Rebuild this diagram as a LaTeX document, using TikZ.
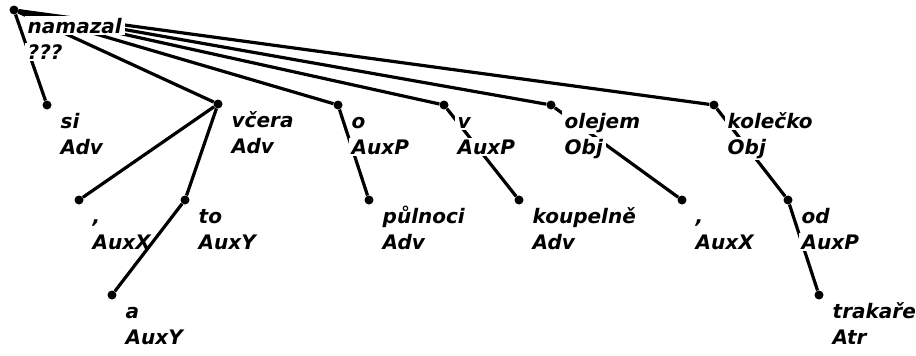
\documentclass[tikz,border=0pt]{standalone}
\usepackage{fontspec}
\setmainfont{DejaVu Sans}

\tikzset{
    uzel/.style={circle, fill=black, inner sep=0pt, minimum size=9pt},
    hrana/.style={line width=3.2pt},
    popis/.style={anchor=base west, fill=white, inner xsep=3pt, inner ysep=1.5pt,
        font=\fontsize{20}{24}\selectfont\bfseries\itshape},
}

\begin{document}
\begin{tikzpicture}[x=1pt, y=-1pt]
    \useasboundingbox (0,0) rectangle (916,356);

    % =================================================================
    % ČÁST 1: UZLY STROMU (černé tečky)
    % =================================================================
    \foreach \n/\x/\y in {root/14/10, si/47/105, vcera/218/104,
            carka/79/200, to/185/200, a/112/295,
            o/338/105, pulnoci/369/200, v/444/105, koupelne/519/200,
            olejem/551/105, carkb/682/200, kolecko/714/105,
            od/788/200, trakare/819/295} {
        \node[uzel] (\n) at (\x,\y) {};
    }

    % =================================================================
    % ČÁST 2: HRANY Z RODIČE K DĚTEM
    % =================================================================
    \foreach \p/\d in {root/si, root/vcera, root/o, root/v, root/olejem,
            root/kolecko, vcera/carka, vcera/to, o/pulnoci, v/koupelne,
            olejem/carkb, kolecko/od, od/trakare} {
        \draw[hrana] (\p) -- (\d);
    }

    % =================================================================
    % ČÁST 3: POPISKY (slovo a funkce), bílé pozadí zakrývá hrany
    % =================================================================
    \foreach \n/\w/\f in {root/namazal/???, si/si/Adv, vcera/včera/Adv,
            carka/{,}/AuxX, to/to/AuxY, a/a/AuxY, o/o/AuxP,
            pulnoci/půlnoci/Adv, v/v/AuxP, koupelne/koupelně/Adv,
            olejem/olejem/Obj, carkb/{,}/AuxX, kolecko/kolečko/Obj,
            od/od/AuxP, trakare/trakaře/Atr} {
        \node[popis] (\n-w) at ([xshift=10.5pt, yshift=-23pt]\n.center) {\w};
        \node[popis] (\n-f) at ([xshift=10.5pt, yshift=-49pt]\n.center) {\f};
    }

    % Hrana to--a vede přes popisek čárky
    \draw[hrana] (to) -- (a);

\end{tikzpicture}
\end{document}
